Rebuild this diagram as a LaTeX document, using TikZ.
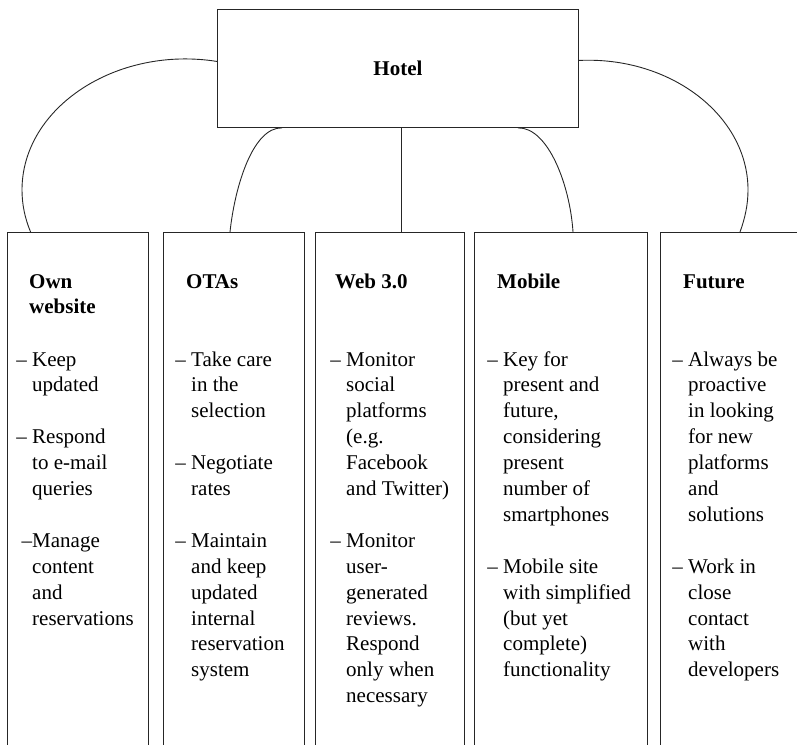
\documentclass[tikz,border=0pt]{standalone}
\usepackage{fontspec}
\setmainfont{Liberation Serif}
\newcommand{\colbody}[1]{\begin{tabular}[t]{@{}l@{}}#1\end{tabular}}
\newcommand{\dsh}{\llap{–\ }}
\begin{document}
\begin{tikzpicture}[x=1pt,y=-1pt,
  box/.style={draw=black!85,line width=0.9pt,inner sep=0pt},
  link/.style={draw=black!85,line width=0.9pt},
  txt/.style={inner sep=0pt,anchor=base west,font=\fontsize{21}{25.9}\selectfont},
  head/.style={inner sep=0pt,anchor=base west,font=\fontsize{21}{25.9}\selectfont\bfseries}]
\useasboundingbox (0,0) rectangle (797,744);
\clip (0,0) rectangle (797,744);
% boxes
\node[box,minimum width=361,minimum height=118,anchor=north west,
      font=\fontsize{21}{25.9}\selectfont\bfseries] (hotel) at (217,9) {Hotel};
\node[box,minimum width=141,minimum height=540,anchor=north west] (c1) at (7,232) {};
\node[box,minimum width=141,minimum height=540,anchor=north west] (c2) at (163,232) {};
\node[box,minimum width=149,minimum height=540,anchor=north west] (c3) at (315,232) {};
\node[box,minimum width=173,minimum height=540,anchor=north west] (c4) at (474,232) {};
\node[box,minimum width=160,minimum height=540,anchor=north west] (c5) at (660,232) {};
% connectors
\draw[link] ([yshift=7pt]hotel.west) .. controls (116.8,45.5) and (22,107.2) .. (22,190)
   .. controls (22,204.3) and (24.9,218.4) .. ([xshift=23.6pt]c1.north west);
\draw[link] ([yshift=8pt]hotel.east) .. controls (670.2,56) and (748,115.4) .. (748,190)
   .. controls (748,203.8) and (745.3,217.5) .. ([xshift=80pt]c5.north west);
\draw[link] ([xshift=65pt]hotel.south west) .. controls (253.3,127) and (235,185) .. ([xshift=67pt]c2.north west);
\draw[link] ([xshift=-61pt]hotel.south east) .. controls (548,127) and (570,185) .. ([xshift=99pt]c4.north west);
\draw[link] ([xshift=3.5pt]hotel.south) -- ([xshift=3.5pt]hotel.south |- c3.north);
% headings
\node[head] (h1) at (29,288) {\colbody{Own\\website}};
\node[head] (h2) at (186,288) {OTAs};
\node[head] (h3) at (335,288) {Web 3.0};
\node[head] (h4) at (497,288) {Mobile};
\node[head] (h5) at (683,288) {Future};
% bodies
\node[txt] (b1) at (32,366) {\colbody{\dsh Keep\\ updated\\ \\ \dsh Respond\\ to e-mail\\ queries\\ \\ \llap{–}Manage\\ content\\ and\\ reservations}};
\node[txt] (b2) at (191,366) {\colbody{\dsh Take care\\ in the\\ selection\\ \\ \dsh Negotiate\\ rates\\ \\ \dsh Maintain\\ and keep\\ updated\\ internal\\ reservation\\ system}};
\node[txt] (b3) at (346,366) {\colbody{\dsh Monitor\\ social\\ platforms\\ (e.g.\\ Facebook\\ and Twitter)\\ \\ \dsh Monitor\\ user-\\ generated\\ reviews.\\ Respond\\ only when\\ necessary}};
\node[txt] (b4) at (503,366) {\colbody{\dsh Key for\\ present and\\ future,\\ considering\\ present\\ number of\\ smartphones\\ \\ \dsh Mobile site\\ with simplified\\ (but yet\\ complete)\\ functionality}};
\node[txt] (b5) at (688,366) {\colbody{\dsh Always be\\ proactive\\ in looking\\ for new\\ platforms\\ and\\ solutions\\ \\ \dsh Work in\\ close\\ contact\\ with\\ developers}};
\end{tikzpicture}
\end{document}
